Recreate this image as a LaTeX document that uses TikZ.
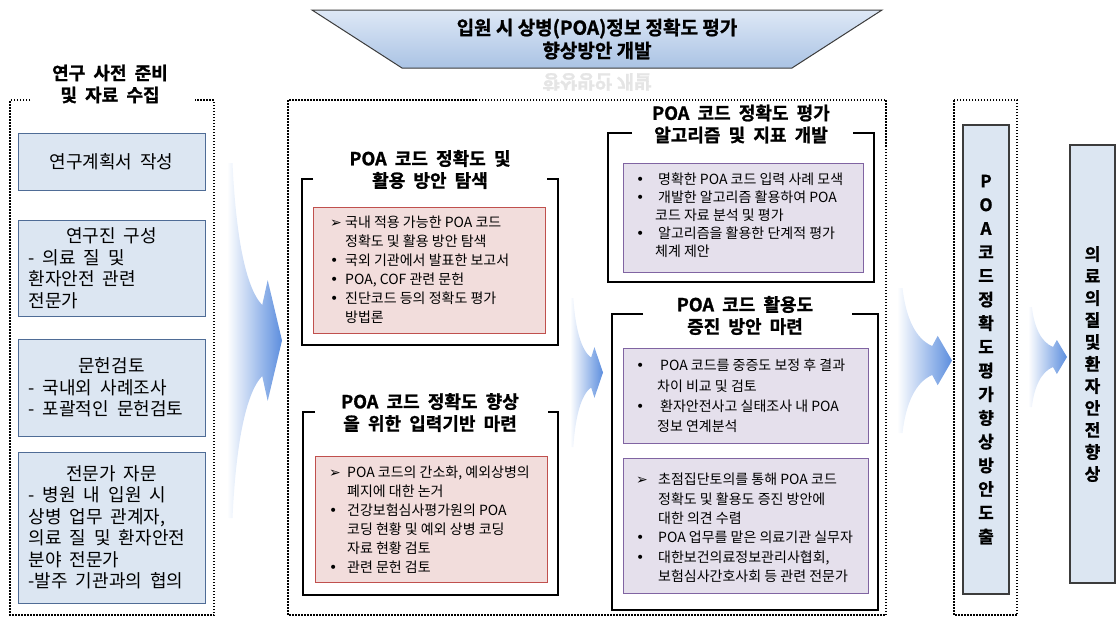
\documentclass[tikz,border=0pt]{standalone}
\usepackage{fontspec}
\setmainfont{Noto Sans CJK KR}[BoldFont={Noto Sans CJK KR Bold},BoldFeatures={FakeBold=1.2}]
\newfontfamily\krw{Noto Sans CJK KR}[WordSpace=2,BoldFont={Noto Sans CJK KR Bold},BoldFeatures={FakeBold=1.2}]
\newfontfamily\symf{DejaVu Sans}
\definecolor{lbfill}{RGB}{220,230,242}
\definecolor{lbdraw}{RGB}{79,108,150}
\definecolor{pkfill}{RGB}{242,221,220}
\definecolor{pkdraw}{RGB}{192,80,77}
\definecolor{pufill}{RGB}{229,224,236}
\definecolor{pudraw}{RGB}{128,100,162}
\definecolor{arrowblue}{RGB}{92,142,222}
\definecolor{bantop}{RGB}{222,232,246}
\definecolor{banbot}{RGB}{170,195,228}
\definecolor{dkgray}{RGB}{60,60,60}
\newcommand\flowarrow[4]{%
  \shade[left color=white, right color=arrowblue, shift={(#1,#2)}, xscale=#3, yscale=#4]
  (0,-1) -- (0.1,-1) .. controls (0.16,-0.6) and (0.33,-0.3) .. (0.64,-0.2)
  -- (0.74,-0.34) -- (1,0) -- (0.74,0.34) -- (0.64,0.2)
  .. controls (0.33,0.3) and (0.16,0.6) .. (0.1,1) -- (0,1) -- cycle;}
\newcommand\myb[1]{\makebox[#1][l]{\symf •}}
\newcommand\mya[1]{\makebox[#1][l]{\symf\bfseries ➢}}
\newcommand\myi[1]{\hspace*{#1}}
\begin{document}
\begin{tikzpicture}[x=1pt,y=-1pt,
  frame/.style={line width=1.5pt, dash pattern=on 1.5pt off 1.5pt},
  lbox/.style={draw=lbdraw, fill=lbfill, line width=1pt, inner sep=0pt, minimum width=187pt,
    align=left, font=\krw\fontsize{18}{21.5}\selectfont},
  vbox/.style={draw=dkgray, fill=lbfill, line width=1.2pt, inner sep=0pt, align=center},
  bracket/.style={draw=black, line width=1.3pt},
  pkbox/.style={draw=pkdraw, fill=pkfill, line width=1pt},
  pubox/.style={draw=pudraw, fill=pufill, line width=1pt},
  ttl/.style={align=center, inner sep=0pt, font=\krw\bfseries\fontsize{18}{22}\selectfont},
  itxt/.style={anchor=north west, inner sep=0pt, align=left}]
\useasboundingbox (0,0) rectangle (1116,619);

% ---------- top banner ----------
\shade[top color=bantop, bottom color=banbot, draw=dkgray, line width=1pt]
  (312,10) -- (882,10) -- (792,68) -- (402,68) -- cycle;
\node[align=center, inner sep=0pt, font=\bfseries\fontsize{19}{23}\selectfont] (banner) at (597,39)
  {입원 시 상병(POA)정보 정확도 평가\\향상방안 개발};
\node[inner sep=0pt, font=\bfseries\fontsize{19}{23}\selectfont, text=black!10] (reflect) at (597,82)
  {\scalebox{1}[-1]{향상방안 개발}};

% ---------- left column ----------
\node[ttl] (ltitle) at (110,84) {연구 사전 준비\\및 자료 수집};
\draw[frame] (30,100) -- (10,100) -- (10,615) -- (214,615) -- (214,100) -- (195,100);
\node[lbox, minimum height=57pt] (b1) at (111.5,161.5) {연구계획서 작성};
\node[lbox, minimum height=96pt] (b2) at (111.5,268)
  {\makebox[166pt]{연구진 구성}\\- 의료 질 및\\환자안전 관련\\전문가};
\node[lbox, minimum height=97pt] (b3) at (111.5,387.5)
  {\makebox[166pt]{문헌검토}\\- 국내외 사례조사\\- 포괄적인 문헌검토};
\node[lbox, minimum height=151pt] (b4) at (111.5,527.5)
  {\makebox[166pt]{전문가 자문}\\- 병원 내 입원 시\\상병 업무 관계자,\\의료 질 및 환자안전\\분야 전문가\\-발주 기관과의 협의};

% ---------- arrows ----------
\flowarrow{227}{340.5}{55}{177.5}
\flowarrow{570}{372.5}{33}{74.5}
\flowarrow{897}{360.5}{55}{72.5}
\flowarrow{1028}{357}{39}{50}

% ---------- middle frame ----------
\draw[frame] (288,100) rectangle (886,615);

% Box A
\draw[bracket] (313,179) -- (302,179) -- (302,345) -- (558,345) -- (558,179) -- (547,179);
\node[ttl] (ta) at (430,169.5) {POA 코드 정확도 및\\활용 방안 탐색};
\draw[pkbox] (313,207) rectangle (545,333);
\node[itxt, font=\fontsize{14}{19}\selectfont] (xa) at (330,216)
  {\mya{15pt}국내 적용 가능한 POA 코드\\
   \myi{15pt}정확도 및 활용 방안 탐색\\
   \myb{15pt}국외 기관에서 발표한 보고서\\
   \myb{15pt}POA, COF 관련 문헌\\
   \myb{15pt}진단코드 등의 정확도 평가\\
   \myi{15pt}방법론};

% Box B
\draw[bracket] (315,412) -- (303,412) -- (303,595) -- (558,595) -- (558,412) -- (548,412);
\node[ttl] (tb) at (430,412.5) {POA 코드 정확도 향상\\을 위한 입력기반 마련};
\draw[pkbox] (315,456) rectangle (547,582);
\node[itxt, font=\fontsize{14}{19}\selectfont] (xb) at (329,466)
  {\mya{18pt}POA 코드의 간소화, 예외상병의\\
   \myi{18pt}폐지에 대한 논거\\
   \myb{18pt}건강보험심사평가원의 POA\\
   \myi{18pt}코딩 현황 및 예외 상병 코딩\\
   \myi{18pt}자료 현황 검토\\
   \myb{18pt}관련 문헌 검토};

% Box C
\draw[bracket] (632,133) -- (608,133) -- (608,282) -- (874,282) -- (874,133) -- (853,133);
\node[ttl] (tc) at (741,124) {POA 코드 정확도 평가\\알고리즘 및 지표 개발};
\draw[pubox] (623,163) rectangle (863,272);
\node[itxt, font=\fontsize{14}{18}\selectfont] (xc) at (636,173)
  {\myb{22pt}명확한 POA 코드 입력 사례 모색\\
   \myb{22pt}개발한 알고리즘 활용하여 POA\\
   \myi{19pt}코드 자료 분석 및 평가\\
   \myb{22pt}알고리즘을 활용한 단계적 평가\\
   \myi{19pt}체계 제안};

% Box D
\draw[bracket] (643,314) -- (612,314) -- (612,610) -- (878,610) -- (878,314) -- (852,314);
\node[ttl] (td) at (745,315.5) {POA 코드 활용도\\증진 방안 마련};
\draw[pubox] (623,348) rectangle (868,443);
\node[itxt, font=\fontsize{14}{20.3}\selectfont] (xd1) at (636,359)
  {\myb{24pt}POA 코드를 중증도 보정 후 결과\\
   \myi{21pt}차이 비교 및 검토\\
   \myb{24pt}환자안전사고 실태조사 내 POA\\
   \myi{21pt}정보 연계분석};
\draw[pubox] (623,458) rectangle (868,593);
\node[itxt, font=\fontsize{14}{19.4}\selectfont] (xd2) at (636,473)
  {\mya{22pt}초점집단토의를 통해 POA 코드\\
   \myi{22pt}정확도 및 활용도 증진 방안에\\
   \myi{22pt}대한 의견 수렴\\
   \myb{22pt}POA 업무를 맡은 의료기관 실무자\\
   \myb{22pt}대한보건의료정보관리사협회,\\
   \myi{22pt}보험심사간호사회 등 관련 전문가};

% ---------- right frame ----------
\draw[frame] (954,100) rectangle (1017,615);
\node[vbox, minimum width=46pt, minimum height=469pt, font=\bfseries\fontsize{17}{23.7}\selectfont] (v1) at (986,359.5)
  {P\\O\\A\\코\\드\\정\\확\\도\\평\\가\\향\\상\\방\\안\\도\\출};
\node[vbox, minimum width=45pt, minimum height=438pt, font=\bfseries\fontsize{17}{22}\selectfont] (v2) at (1092.5,364)
  {의\\료\\의\\질\\및\\환\\자\\안\\전\\향\\상};
\end{tikzpicture}
\end{document}
